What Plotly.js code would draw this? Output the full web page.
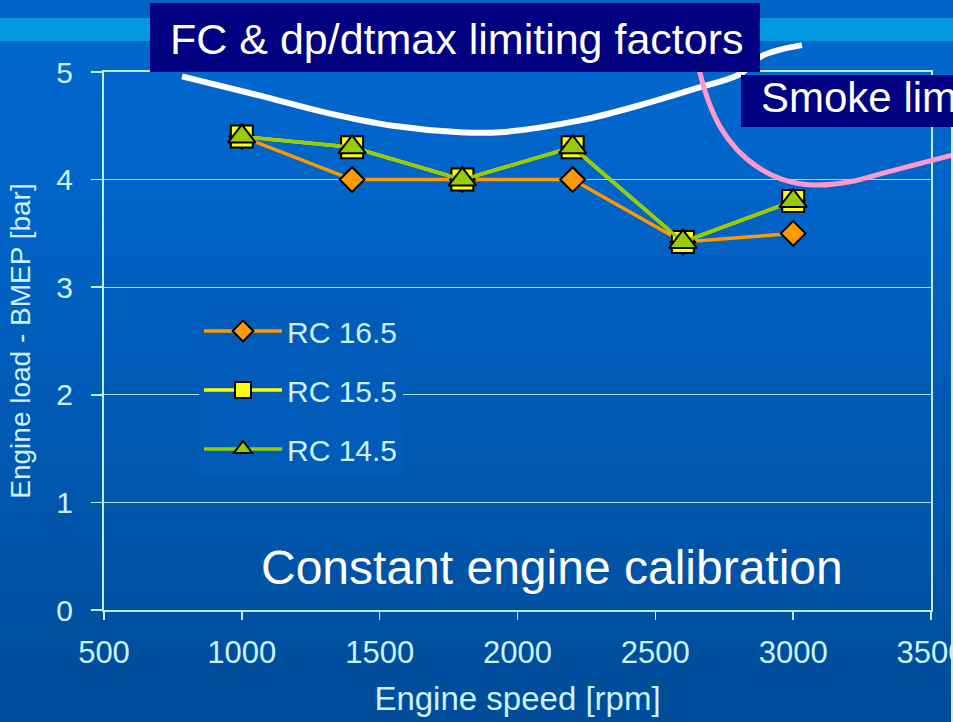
<!DOCTYPE html>
<html>
<head>
<meta charset="utf-8">
<script src="https://cdn.plot.ly/plotly-3.0.1.min.js"></script>
<style>
  html, body { margin: 0; padding: 0; }
  body {
    width: 953px; height: 722px; overflow: hidden;
    background:
      linear-gradient(to bottom,
        #0062C6 0px, #0062C6 18px,
        #0099E0 18px, #0099E0 41px,
        rgba(0,0,0,0) 41px),
      linear-gradient(to bottom, #0068CE 0px, #0064C8 200px, #0056AC 500px, #004C99 722px);
  }
  #chart { width: 953px; height: 722px; }
</style>
</head>
<body>
<div id="chart"></div>
<script>
// ---- data ----
const speed = [1000, 1400, 1800, 2200, 2600, 3000];
const rc165 = [4.4, 4.0, 4.0, 4.0, 3.42, 3.5];
const rc155 = [4.4, 4.3, 4.0, 4.3, 3.42, 3.8];
const rc145 = [4.4, 4.3, 4.0, 4.3, 3.42, 3.8];
const seriesNames = ['RC 16.5', 'RC 15.5', 'RC 14.5'];

// limit curves (sketched on the slide)
const fcLimitX = [783, 1066, 1309, 1548, 1791, 1937, 2227, 2470, 2651, 2807, 2887, 3032];
const fcLimitY = [4.96, 4.78, 4.62, 4.50, 4.44, 4.44, 4.55, 4.71, 4.85, 4.98, 5.15, 5.25];
const smokeX = [2648, 2662, 2691, 2735, 2796, 2869, 2963, 3072, 3206, 3326, 3580];
const smokeY = [5.20, 4.99, 4.74, 4.49, 4.28, 4.12, 4.00, 3.95, 3.98, 4.06, 4.23];

const xTicks = [500, 1000, 1500, 2000, 2500, 3000, 3500];
const yTicks = [0, 1, 2, 3, 4, 5];

// ---- layout geometry ----
const W = 953, H = 722;
const mL = 104, mR = 0, mT = 0, mB = 112;
const plotW = W - mL - mR, plotH = H - mT - mB;
const xDomEnd = (931 - mL) / plotW;
const yDomEnd = (610 - 72) / plotH;
const xRange = [500, 3500];
const yRange = [0, 5];
const x2Range = [xRange[0], xRange[0] + (xRange[1] - xRange[0]) / xDomEnd];
const y2Range = [yRange[0], yRange[0] + (yRange[1] - yRange[0]) / yDomEnd];

const px = v => (v - mL) / plotW;
const py = v => (H - mB - v) / plotH;

const font = "Arial, 'Liberation Sans', sans-serif";
const lightCyan = '#CCF2FF';
const axisLine = '#BDEBFF';

const traces = [
  {
    x: fcLimitX, y: fcLimitY, xaxis: 'x2', yaxis: 'y2', mode: 'lines',
    line: { color: '#FFFFFF', width: 6, shape: 'spline', smoothing: 1 },
    showlegend: false, hoverinfo: 'skip'
  },
  {
    x: smokeX, y: smokeY, xaxis: 'x2', yaxis: 'y2', mode: 'lines',
    line: { color: '#FF99CC', width: 5, shape: 'spline', smoothing: 1 },
    showlegend: false, hoverinfo: 'skip'
  },
  {
    x: speed, y: rc165, name: seriesNames[0], mode: 'lines+markers', legendgroup: 'a',
    line: { color: '#FF9900', width: 3.5 },
    marker: { symbol: 'diamond', size: 19, color: '#FF9900', line: { color: '#000000', width: 2 } },
    cliponaxis: false
  },
  {
    x: speed, y: rc155, name: seriesNames[1], mode: 'lines+markers', legendgroup: 'b',
    line: { color: '#FFFF00', width: 3.5 },
    marker: { symbol: 'square', size: 22, color: '#FFFF00', line: { color: '#000000', width: 2 } },
    cliponaxis: false
  },
  {
    x: speed, y: rc145, name: seriesNames[2], mode: 'lines+markers', legendgroup: 'c',
    line: { color: '#99CC00', width: 3.5 },
    marker: { symbol: 'triangle-up', size: 24, color: '#99CC00', line: { color: '#000000', width: 2 } },
    cliponaxis: false
  }
];

const layout = {
  width: W, height: H,
  margin: { l: mL, r: mR, t: mT, b: mB, pad: 0 },
  paper_bgcolor: 'rgba(0,0,0,0)',
  plot_bgcolor: 'rgba(0,0,0,0)',
  font: { family: font, color: lightCyan },
  showlegend: true,
  legend: {
    x: px(199), y: py(305), xanchor: 'left', yanchor: 'top',
    bgcolor: '#005CB8', borderwidth: 0, itemwidth: 78,
    font: { size: 30, color: lightCyan, family: font },
    traceorder: 'grouped', tracegroupgap: 17
  },
  xaxis: {
    domain: [0, xDomEnd], range: xRange, tickvals: xTicks,
    showgrid: false, zeroline: false,
    showline: true, mirror: true, linecolor: axisLine, linewidth: 2,
    ticks: 'outside', ticklen: 8, tickcolor: axisLine, tickwidth: 1.5,
    tickfont: { size: 31, color: lightCyan, family: font },
    ticklabelstandoff: 6, ticklabeloverflow: 'allow',
    title: { text: 'Engine speed [rpm]', font: { size: 33, color: lightCyan, family: font }, standoff: 18 },
    anchor: 'y'
  },
  yaxis: {
    domain: [0, yDomEnd], range: yRange, tickvals: yTicks,
    showgrid: true, gridcolor: '#A6DDF5', gridwidth: 1, zeroline: false,
    showline: true, mirror: true, linecolor: axisLine, linewidth: 2,
    ticks: 'outside', ticklen: 11, tickcolor: axisLine, tickwidth: 1.5,
    tickfont: { size: 30, color: lightCyan, family: font },
    ticklabelstandoff: 12,
    title: { text: 'Engine load - BMEP [bar]', font: { size: 28, color: lightCyan, family: font }, standoff: 18 },
    anchor: 'x'
  },
  xaxis2: { domain: [0, 1], range: x2Range, visible: false, anchor: 'y2', fixedrange: true },
  yaxis2: { domain: [0, 1], range: y2Range, visible: false, anchor: 'x2', fixedrange: true },
  shapes: [
    { type: 'rect', xref: 'paper', yref: 'paper', layer: 'above',
      x0: px(150), x1: px(760), y0: py(3), y1: py(72),
      fillcolor: '#000080', line: { width: 0 } },
    { type: 'rect', xref: 'paper', yref: 'paper', layer: 'above',
      x0: px(741), x1: px(970), y0: py(75), y1: py(127),
      fillcolor: '#000080', line: { width: 0 } },
    { type: 'line', xref: 'paper', yref: 'paper', layer: 'above',
      x0: px(952), x1: px(952), y0: py(127), y1: py(722),
      line: { color: '#CCF2FF', width: 2 } }
  ],
  annotations: [
    { xref: 'paper', yref: 'paper', x: px(168), y: py(39), xanchor: 'left', yanchor: 'middle',
      text: 'FC &amp; dp/dtmax limiting factors', showarrow: false,
      font: { size: 43, color: '#FFFFFF', family: font } },
    { xref: 'paper', yref: 'paper', x: px(759), y: py(97), xanchor: 'left', yanchor: 'middle',
      text: 'Smoke limit', showarrow: false,
      font: { size: 42, color: '#FFFFFF', family: font } },
    { xref: 'paper', yref: 'paper', x: px(552), y: py(567), xanchor: 'center', yanchor: 'middle',
      text: 'Constant engine calibration', showarrow: false,
      font: { size: 48, color: '#FFFFFF', family: font } }
  ]
};

Plotly.newPlot('chart', traces, layout, { displayModeBar: false, staticPlot: true });
</script>
</body>
</html>
